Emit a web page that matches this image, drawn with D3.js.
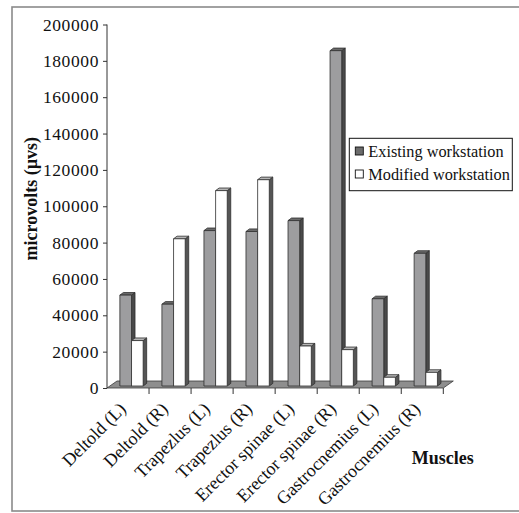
<!DOCTYPE html>
<html>
<head>
<meta charset="utf-8">
<script src="https://cdn.jsdelivr.net/npm/d3@7"></script>
<style>
  body { margin: 0; background: #fff; }
  text { font-family: "Liberation Serif", "Times New Roman", serif; fill: #111; }
</style>
</head>
<body>
<svg width="519" height="513"></svg>
<script>
const muscles = ['Deltold (L)', 'Deltold (R)', 'Trapezlus (L)', 'Trapezlus (R)',
  'Erector spinae (L)', 'Erector spinae (R)', 'Gastrocnemius (L)', 'Gastrocnemius (R)'];
const series = ['Existing workstation', 'Modified workstation'];
const existing = [50000, 45000, 85500, 85000, 91000, 184500, 48000, 73000];
const modified = [25000, 81000, 107500, 113500, 22000, 20000, 4800, 7500];
const yTicks = [0, 20000, 40000, 60000, 80000, 100000, 120000, 140000, 160000, 180000, 200000];

const svg = d3.select('svg');

// frame (right edge falls outside the picture)
svg.append('rect')
  .attr('x', 12).attr('y', 7).attr('width', 530).attr('height', 504)
  .attr('fill', 'none').attr('stroke', '#8a8a8a').attr('stroke-width', 1.6);

const xScale = d3.scaleBand().domain(muscles).range([107, 443.3]);
const yScale = d3.scaleLinear().domain([0, 200000]).range([388, 24.5]);
const inner = d3.scaleBand().domain(series)
  .range([(xScale.bandwidth() - 23.3) / 2, (xScale.bandwidth() + 23.3) / 2]);

const floorDepth = {dx: 10, dy: -7};
const shift = {dx: 3.5, dy: -2};   // bars stand a little into the floor
const depth = {dx: 3.5, dy: -2.6}; // depth of each bar

// floor
const fx0 = xScale.range()[0], fx1 = xScale.range()[1], fy = yScale(0);
svg.append('polygon')
  .attr('points', [[fx0, fy], [fx1, fy], [fx1 + floorDepth.dx, fy + floorDepth.dy],
    [fx0 + floorDepth.dx, fy + floorDepth.dy]].join(' '))
  .attr('fill', '#8e8e8e').attr('stroke', '#3a3a3a').attr('stroke-width', 0.8);

// bars
const rows = [];
muscles.forEach((m, i) => {
  rows.push({muscle: m, key: series[0], value: existing[i]});
  rows.push({muscle: m, key: series[1], value: modified[i]});
});
const faces = {
  [series[0]]: {front: '#9d9d9f', side: '#4a4a4a', top: '#6a6a6a'},
  [series[1]]: {front: '#ffffff', side: '#555555', top: '#b5b5b5'}
};

const bar = svg.append('g').selectAll('g').data(rows).join('g')
  .attr('stroke', '#2e2e2e').attr('stroke-width', 0.8).attr('stroke-linejoin', 'round');

bar.each(function (d) {
  const g = d3.select(this);
  const x0 = xScale(d.muscle) + inner(d.key) + shift.dx;
  const x1 = x0 + inner.bandwidth();
  const yb = yScale(0) + shift.dy;
  const yt = yScale(d.value) + shift.dy;
  const c = faces[d.key];
  g.append('polygon')
    .attr('points', [[x1, yb], [x1 + depth.dx, yb + depth.dy], [x1 + depth.dx, yt + depth.dy], [x1, yt]].join(' '))
    .attr('fill', c.side);
  g.append('polygon')
    .attr('points', [[x0, yt], [x1, yt], [x1 + depth.dx, yt + depth.dy], [x0 + depth.dx, yt + depth.dy]].join(' '))
    .attr('fill', c.top);
  g.append('rect')
    .attr('x', x0).attr('y', yt).attr('width', x1 - x0).attr('height', yb - yt)
    .attr('fill', c.front);
});

// y axis
const yAxisG = svg.append('g')
  .attr('transform', 'translate(107,0)')
  .call(d3.axisLeft(yScale).tickValues(yTicks).tickFormat(d3.format('d')).tickSize(4).tickPadding(4));
yAxisG.select('.domain').attr('stroke', '#333').attr('d', `M0,${yScale(200000)}V${yScale(0)}`);
yAxisG.selectAll('.tick line').attr('stroke', '#333');
yAxisG.selectAll('.tick text')
  .attr('font-family', '"Liberation Serif", serif').attr('font-size', 17.5)
  .attr('letter-spacing', 0.6).attr('fill', '#111');

// x ticks at the band edges
const edges = muscles.map(m => xScale(m) + xScale.bandwidth());
svg.append('g').selectAll('line').data(edges).join('line')
  .attr('x1', d => d).attr('x2', d => d)
  .attr('y1', yScale(0)).attr('y2', yScale(0) + 6)
  .attr('stroke', '#333');

// category labels
svg.append('g').selectAll('text').data(muscles).join('text')
  .attr('transform', d => `translate(${xScale(d) + xScale.bandwidth() / 2 - 1},${yScale(0) + 22}) rotate(-45)`)
  .attr('text-anchor', 'end')
  .attr('font-size', 18)
  .text(d => d);

// axis titles
svg.append('text')
  .attr('transform', `translate(37,198.7) rotate(-90)`)
  .attr('text-anchor', 'middle')
  .attr('font-size', 18).attr('font-weight', 'bold')
  .text('microvolts (µvs)');

svg.append('text')
  .attr('x', 411.7).attr('y', 464)
  .attr('font-size', 18).attr('font-weight', 'bold')
  .text('Muscles');

// legend
const legend = svg.append('g');
legend.append('rect')
  .attr('x', 349.3).attr('y', 138.3).attr('width', 163).attr('height', 52.4)
  .attr('fill', '#fff').attr('stroke', '#111').attr('stroke-width', 1);
const legendFill = ['#6b6b6b', '#ffffff'];
const item = legend.selectAll('g').data(series).join('g')
  .attr('transform', (d, i) => `translate(355.3,${151 + i * 23})`);
item.append('rect')
  .attr('x', 0).attr('y', -4).attr('width', 8).attr('height', 8)
  .attr('fill', (d, i) => legendFill[i]).attr('stroke', '#111').attr('stroke-width', 0.9);
item.append('text')
  .attr('x', 13).attr('y', 5.5)
  .attr('font-size', 16.3)
  .text(d => d);
</script>
</body>
</html>
